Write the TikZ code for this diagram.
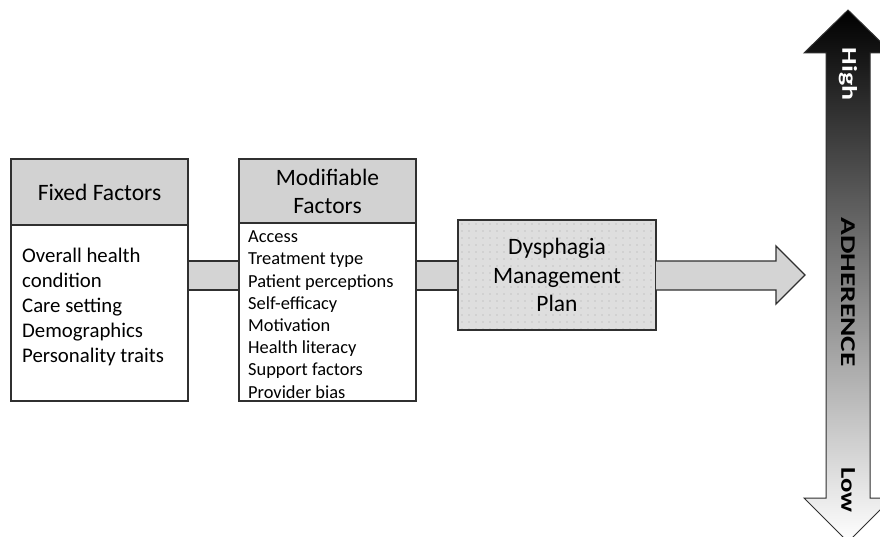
\documentclass[tikz,border=0pt]{standalone}
\usepackage{fontspec}
\setmainfont{Carlito}
\usetikzlibrary{calc}
\definecolor{hdr}{HTML}{D2D2D2}
\definecolor{cn}{HTML}{D4D4D4}
\definecolor{pl}{HTML}{DEDEDE}
\definecolor{ln}{HTML}{303030}
\definecolor{dotc}{HTML}{A8A8A8}
\tikzset{
  boxed/.style={draw=ln, line width=1.3pt, inner sep=0pt, outer sep=0pt, anchor=north west, minimum width=177pt},
  hdrbox/.style={boxed, fill=hdr, align=center, font=\fontsize{23.5}{28}\selectfont},
  bodybox/.style={boxed, fill=white},
  conn/.style={draw=ln, line width=1.3pt, fill=cn, line join=miter},
  listtxt/.style={anchor=west, align=left, inner sep=0pt},
  arrtxt/.style={rotate=-90, inner sep=0pt, font=\bfseries\fontsize{21}{21}\selectfont}
}
\begin{document}
\begin{tikzpicture}[x=1pt,y=-1pt]
\clip (0,0) rectangle (880,537);
\fill[white] (0,0) rectangle (880,537);
% boxes
\node[bodybox, minimum height=176pt] (fixedbody) at (11,225) {};
\node[hdrbox, minimum height=66pt] (fixedhead) at (11,159) {Fixed Factors};
\node[bodybox, minimum height=178pt] (modbody) at (239,223) {};
\node[hdrbox, minimum height=64pt] (modhead) at (239,159) {Modifiable\\Factors};
\node[boxed, minimum width=198pt, minimum height=110pt, fill=pl, align=center,
  font=\fontsize{23.5}{28.5}\selectfont,
  path picture={\foreach \i in {0,...,27}{\foreach \j in {0,...,15}{
    \fill[dotc] ($(path picture bounding box.north west)+(4+\i*7,4+\j*7)$) circle (0.6pt);}}}]
  (plan) at (458,220) {Dysphagia\\Management\\Plan};
% connectors
\coordinate (ct) at (0,261);
\coordinate (cb) at (0,290);
\draw[conn] (fixedbody.east |- ct) rectangle (modbody.west |- cb);
\draw[conn] (modbody.east |- ct) rectangle (plan.west |- cb);
\coordinate (hb) at (776,0);
\coordinate (tip) at (805,275);
\draw[conn] (plan.east |- ct) -- (hb |- ct) -- (776,246) -- (tip) -- (776,304) -- (hb |- cb) -- (plan.east |- cb);
% list texts
\node[listtxt, font=\fontsize{20.8}{25}\selectfont] (fixedlist) at (22,306.5)
  {Overall health\\condition\\Care setting\\Demographics\\Personality traits};
\node[listtxt, font=\fontsize{18.4}{22.2}\selectfont] (modlist) at (248,314.5)
  {Access\\Treatment type\\Patient perceptions\\Self-efficacy\\Motivation\\Health literacy\\Support factors\\Provider bias};
% adherence arrow
\draw[draw=ln, line width=1pt, top color=black, bottom color=white, line join=miter]
  (848,10) -- (892,53) -- (870,53) -- (870,498) -- (892,498) -- (848,542)
  -- (804,498) -- (826,498) -- (826,53) -- (804,53) -- cycle;
\node[arrtxt, text=white] (high) at (848,74) {\scalebox{1.33}[1]{High}};
\node[arrtxt, text=black] (adh) at (848,292) {\scalebox{1.4}[1]{ADHERENCE}};
\node[arrtxt, text=black] (low) at (848,490) {\scalebox{1.27}[1]{Low}};
\end{tikzpicture}
\end{document}
